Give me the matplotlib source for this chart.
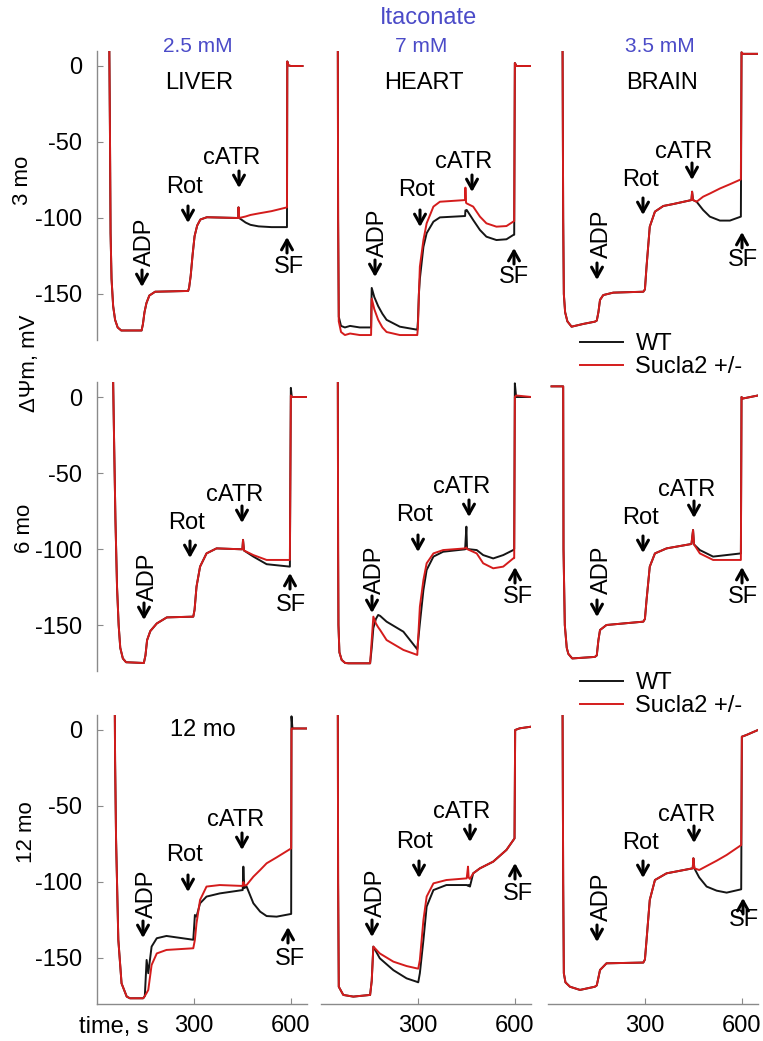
import matplotlib.pyplot as plt
from matplotlib.lines import Line2D

plt.rcParams['font.family'] = ['Liberation Sans', 'DejaVu Sans']
plt.rcParams['axes.unicode_minus'] = False

# traces: time (s), membrane potential (mV)
# 3 months
liver_3_t = [38, 40, 42, 45, 50, 56, 64, 75, 138, 142, 147, 153, 162, 180, 282, 285, 290, 296, 302, 310, 320, 340,
             437, 438, 440, 460, 475, 500, 540, 588, 589, 592, 600, 636]
liver_3_wt = [15, -40, -110, -140, -158, -167, -172, -174, -174, -170, -162, -156, -151, -148.5, -148, -146, -138, -124,
              -112, -105, -101, -99.5, -100, -93, -100, -103, -104.5, -105.5, -106, -106, 3, 0.5, 0, 0]
liver_3_ko = [15, -40, -110, -140, -158, -167, -172, -174, -174, -170, -162, -156, -151, -148.5, -148, -146, -138, -124,
              -112, -105, -101, -99.5, -100, -93, -100, -99, -98, -97, -95.5, -93, 3, 0.5, 0, 0]

heart_3_t = [52, 53, 55, 62, 74, 90, 120, 155, 157, 165, 177, 190, 203, 244, 298, 300, 303, 306, 317, 327, 348, 368,
             446, 447, 449, 451, 471, 492, 512, 543, 574, 595, 598, 600, 605, 650]
heart_3_wt = [15, -100, -165, -171, -172, -171, -172, -172, -146, -152, -158, -163, -167, -171.5, -173.5, -168, -150,
              -140, -119, -110, -102.4, -99.6, -98.7, -95, -95, -94.7, -101.3, -107.9, -112.3, -114.5, -114, -111.2,
              -111, 2, 0, 0]
heart_3_ko = [15, -100, -168, -175, -177, -176, -177, -177, -153, -160, -167, -172, -175, -177, -177, -172, -150,
              -132, -114.5, -103.5, -92.5, -89.3, -88.2, -80, -90, -90.4, -92.5, -99.1, -103.5, -105.7, -105.3, -102.4,
              -102, 2, 0, 0]

brain_3_t = [45, 47, 49, 53, 60, 73, 109, 145, 151, 156, 161, 171, 202, 295, 300, 305, 315, 331, 357, 388,
             444, 446, 449, 460, 480, 501, 532, 563, 597, 599, 603, 650]
brain_3_wt = [15, -100, -150, -162, -168, -171.5, -169.7, -168.2, -167.5, -162, -153.9, -150.7, -149.1, -148.5, -147,
              -132, -105.7, -95.8, -92.1, -90.8, -88.2, -82.7, -88.2, -89.3, -94.7, -99.1, -101.7, -101.7, -99.1, 9, 8, 8]
brain_3_ko = [15, -100, -150, -162, -168, -171.5, -169.7, -168.2, -167.5, -162, -153.9, -150.7, -149.1, -148.5, -147,
              -132, -105.7, -95.8, -92.1, -90.8, -88.2, -82.7, -88.2, -89.3, -86, -83.9, -80.6, -77.8, -74.6, 9, 8, 8]

# 6 months
liver_6_t = [50, 53, 57, 62, 67, 72, 80, 90, 145, 150, 155, 165, 185, 216, 298, 302, 308, 319, 339, 370,
             450, 452, 455, 484, 525, 597, 600, 603, 649]
liver_6_wt = [10, -30, -80, -125, -150, -165, -172, -174.5, -175, -170, -160, -154, -149, -145, -144.5, -140, -124.8,
              -111.6, -102.9, -99.6, -100.2, -94, -101, -105, -110, -111.6, 6, 0, 0]
liver_6_ko = [10, -30, -80, -125, -150, -165, -172, -174.5, -175, -170, -160, -154, -149, -145, -144.5, -140, -124.8,
              -111.6, -102.9, -99.6, -100.2, -94, -101, -104, -107.2, -107.2, 1, 0, 0]

heart_6_t = [52, 53, 54, 57, 64, 75, 85, 152, 157, 162, 170, 177, 183, 203, 255, 298, 306, 317, 327, 348, 378,
             446, 450, 452, 482, 502, 533, 564, 595, 598, 600, 604, 651]
heart_6_wt = [15, -100, -150, -168, -173, -175, -175.2, -175.2, -165, -152, -146, -143.4, -144, -147.8, -154.4, -166,
              -149, -127, -113.8, -105, -101.8, -100.2, -85.3, -100, -100.7, -104, -106.2, -104, -100.7, -100, 9, 0, 0]
heart_6_ko = [15, -100, -150, -168, -173, -175, -175.2, -175.2, -160, -144.5, -149, -151.5, -153.3, -159.9, -166.4,
              -169.7, -138, -120.4, -109.4, -102.9, -100.7, -99.6, -99, -100, -102.9, -109.4, -112.7, -111.6, -106.2,
              -106, 0, 1, 0]

brain_6_t = [11, 47, 48, 52, 58, 63, 75, 145, 151, 156, 161, 181, 295, 300, 305, 315, 331, 367,
             444, 449, 452, 470, 511, 597, 599, 603, 650]
brain_6_wt = [7, 7, -100, -150, -165, -169, -172, -171, -170, -160, -153.3, -150, -147.8, -146, -133.6, -111.6,
              -102.9, -99.6, -96.7, -87.5, -97, -100.7, -105, -102.9, 0, -1, 1]
brain_6_ko = [7, 7, -100, -150, -165, -169, -172, -171, -170, -160, -153.3, -150, -147.8, -146, -133.6, -111.6,
              -102.9, -99.6, -96.7, -87.5, -97, -102.9, -107.2, -107.2, 0, -1, 1]

# 12 months
liver_12_t = [55, 56, 59, 66, 76, 92, 102, 143, 148, 153.6, 158.7, 169, 185, 215, 298, 303, 308, 319, 339, 380,
              451, 453, 456, 463, 484, 505, 525, 556, 601, 602, 605, 648]
liver_12_wt = [15, -20, -72, -138, -166.7, -175.4, -176.5, -176.5, -175, -151.3, -160, -142.5, -137, -135.5, -138,
               -121.7, -122.8, -114, -109.6, -107.5, -105.3, -89.9, -104, -103, -114, -119.5, -122.4, -122.8, -121,
               9, 1, 1]
liver_12_ko = [15, -20, -72, -138, -166.7, -175.4, -176.5, -176.5, -175, -173, -171, -154.6, -147, -144.7, -143.6,
               -138, -127.2, -111.8, -103, -102, -102.6, -100, -102.3, -102, -96.5, -92.1, -87.7, -83.8, -77.9,
               1, 1, 1]

heart_12_t = [52, 53, 55, 69, 100, 152, 157, 162, 182, 224, 265, 296, 301, 306, 317, 327, 348, 388,
              451, 455, 457, 461, 471, 492, 533, 574, 599, 601, 615, 651]
heart_12_wt = [15, -100, -168.9, -174.3, -175.4, -174.3, -165, -142.5, -150.2, -158, -163.4, -165.6, -166, -160,
               -138.2, -116.2, -105.3, -102, -102, -102.5, -102, -103, -94.3, -91, -86.6, -78.9, -71.3, 0, 1.1, 2.2]
heart_12_ko = [15, -100, -168.9, -174.3, -175.4, -174.3, -165, -142.5, -147, -152.4, -155.3, -156.8, -157, -151.3,
               -125, -109.6, -100.9, -98.7, -97.6, -89.9, -97, -98, -94.3, -91, -86.6, -78.9, -71.3, 0, 1.1, 2.2]

brain_12_t = [45, 47, 49, 54, 68, 99, 145, 151, 156, 161, 181, 295, 300, 305, 315, 331, 367,
              448, 450, 453, 468, 491, 522, 553, 598, 600, 614, 650]
brain_12_wt = [15, -100, -160, -166, -168.9, -171, -168.9, -168, -163, -157.9, -153.5, -153, -151, -138.2, -111.8,
               -98.7, -94.3, -91, -84.4, -91, -97, -103, -105.7, -107, -104.8, -4.4, -3.3, 0]
brain_12_ko = [15, -100, -160, -166, -168.9, -171, -168.9, -168, -163, -157.9, -153.5, -153, -151, -138.2, -111.8,
               -98.7, -94.3, -91, -84.4, -91, -92.1, -89.5, -86, -82.2, -75.7, -4.4, -3.3, 0]

tissues = ['LIVER', 'HEART', 'BRAIN']
doses = ['2.5 mM', '7 mM', '3.5 mM']
ages = ['3 mo', '6 mo', '12 mo']
y_ticks = [0, -50, -100, -150]
x_ticks = [300, 600]

panels = [
    [(liver_3_t, liver_3_wt, liver_3_ko), (heart_3_t, heart_3_wt, heart_3_ko), (brain_3_t, brain_3_wt, brain_3_ko)],
    [(liver_6_t, liver_6_wt, liver_6_ko), (heart_6_t, heart_6_wt, heart_6_ko), (brain_6_t, brain_6_wt, brain_6_ko)],
    [(liver_12_t, liver_12_wt, liver_12_ko), (heart_12_t, heart_12_wt, heart_12_ko),
     (brain_12_t, brain_12_wt, brain_12_ko)],
]

# injection arrows: label, arrow tip (px), label centre (px)
marks = [
    [[('ADP', 142, 287, 145, 242), ('Rot', 188, 223, 184, 187), ('cATR', 239, 188, 232, 158), ('SF', 287, 237, 289, 267)],
     [('ADP', 375, 277, 378, 233), ('Rot', 420, 227, 417, 190), ('cATR', 472, 192, 464, 162), ('SF', 514, 248, 514, 277)],
     [('ADP', 597, 280, 602, 234), ('Rot', 643, 215, 640, 180), ('cATR', 692, 180, 684, 152), ('SF', 742, 232, 743, 260)]],
    [[('ADP', 144, 620, 148, 577), ('Rot', 190, 558, 187, 523), ('cATR', 242, 523, 235, 495), ('SF', 290, 573, 291, 605)],
     [('ADP', 372, 613, 375, 570), ('Rot', 418, 552, 415, 515), ('cATR', 469, 517, 462, 487), ('SF', 515, 567, 518, 597)],
     [('ADP', 597, 617, 602, 570), ('Rot', 643, 553, 640, 518), ('cATR', 694, 518, 687, 490), ('SF', 742, 567, 743, 597)]],
    [[('ADP', 143, 938, 147, 894), ('Rot', 188, 892, 184, 855), ('cATR', 242, 850, 236, 820), ('SF', 288, 927, 290, 959)],
     [('ADP', 372, 937, 376, 893), ('Rot', 419, 878, 415, 842), ('cATR', 470, 842, 462, 812), ('SF', 515, 863, 518, 894)],
     [('ADP', 597, 942, 602, 897), ('Rot', 643, 878, 640, 843), ('cATR', 694, 843, 687, 815), ('SF', 743, 898, 744, 920)]],
]

W, H = 763, 1041
WT_COLOR = '#151515'
KO_COLOR = '#d41c1c'
BLUE = '#4b4bc8'
FS = 17

fig = plt.figure(figsize=(W / 100, H / 100), dpi=100)

col_left = [97, 321, 548]
row_top = [50.8, 381.8, 714.8]
ax_w, ax_h = 210, 288.8

for r in range(3):
    for c in range(3):
        ax = fig.add_axes([col_left[c] / W, 1 - (row_top[r] + ax_h) / H, ax_w / W, ax_h / H])
        ax.patch.set_alpha(0)
        t, wt, ko = panels[r][c]
        ax.plot(t, wt, color=WT_COLOR, lw=1.4)
        ax.plot(t, ko, color=KO_COLOR, lw=1.4)
        ax.set_xlim(0, 650)
        ax.set_ylim(-180, 10)
        for s in ['top', 'right']:
            ax.spines[s].set_visible(False)
        ax.spines['left'].set_visible(c == 0)
        ax.spines['bottom'].set_visible(r == 2)
        for s in ['left', 'bottom']:
            ax.spines[s].set_color('#8a8a8a')
            ax.spines[s].set_linewidth(1.0)
        ax.tick_params(direction='in', length=4, color='#8a8a8a', labelsize=FS)
        if c == 0:
            ax.set_yticks(y_ticks)
            ax.tick_params(axis='y', pad=10.5)
        else:
            ax.set_yticks([])
        if r == 2:
            ax.set_xticks(x_ticks)
            ax.tick_params(axis='x', pad=8)
        else:
            ax.set_xticks([])

# overlay in pixel coordinates for labels and arrows
ov = fig.add_axes([0, 0, 1, 1], zorder=10)
ov.set_xlim(0, W)
ov.set_ylim(H, 0)
ov.axis('off')

ov.text(428, 18, 'Itaconate', color=BLUE, fontsize=FS, ha='center', va='center')
for x, d in zip([198, 421, 660], doses):
    ov.text(x, 47, d, color=BLUE, fontsize=15, ha='center', va='center')
for x, name in zip([199, 424, 662], tissues):
    ov.text(x, 83, name, fontsize=FS, ha='center', va='center')

for (x, y), age in zip([(23, 180), (25, 528), (26, 832)], ages):
    ov.text(x, y, age, fontsize=16, rotation=90, ha='center', va='center')
ov.text(29, 363, 'ΔΨm, mV', fontsize=16, rotation=90, ha='center', va='center')
ov.text(203, 730, '12 mo', fontsize=FS, ha='center', va='center')
ov.text(114, 1027, 'time, s', fontsize=FS, ha='center', va='center')

for row in marks:
    for panel in row:
        for label, ax_x, ax_y, tx, ty in panel:
            tail = ax_y + 16 if label == 'SF' else ax_y - 17
            ov.annotate('', xy=(ax_x, ax_y), xytext=(ax_x, tail),
                        arrowprops=dict(arrowstyle='->, head_length=0.5, head_width=0.28', lw=2.2,
                                        color='black', shrinkA=0, shrinkB=0, mutation_scale=14))
            ov.text(tx, ty, label, fontsize=FS, ha='center', va='center',
                    rotation=90 if label == 'ADP' else 0)

handles = [Line2D([], [], color=WT_COLOR, lw=1.4), Line2D([], [], color=KO_COLOR, lw=1.4)]
for top in [333, 672]:
    fig.legend(handles, ['WT', 'Sucla2 +/-'], loc='upper left', bbox_to_anchor=(580 / W, 1 - top / H),
               frameon=False, borderaxespad=0, borderpad=0, handlelength=1.8, handletextpad=0.55,
               labelspacing=0.05, fontsize=FS)

fig.savefig('out.png', dpi=100)
